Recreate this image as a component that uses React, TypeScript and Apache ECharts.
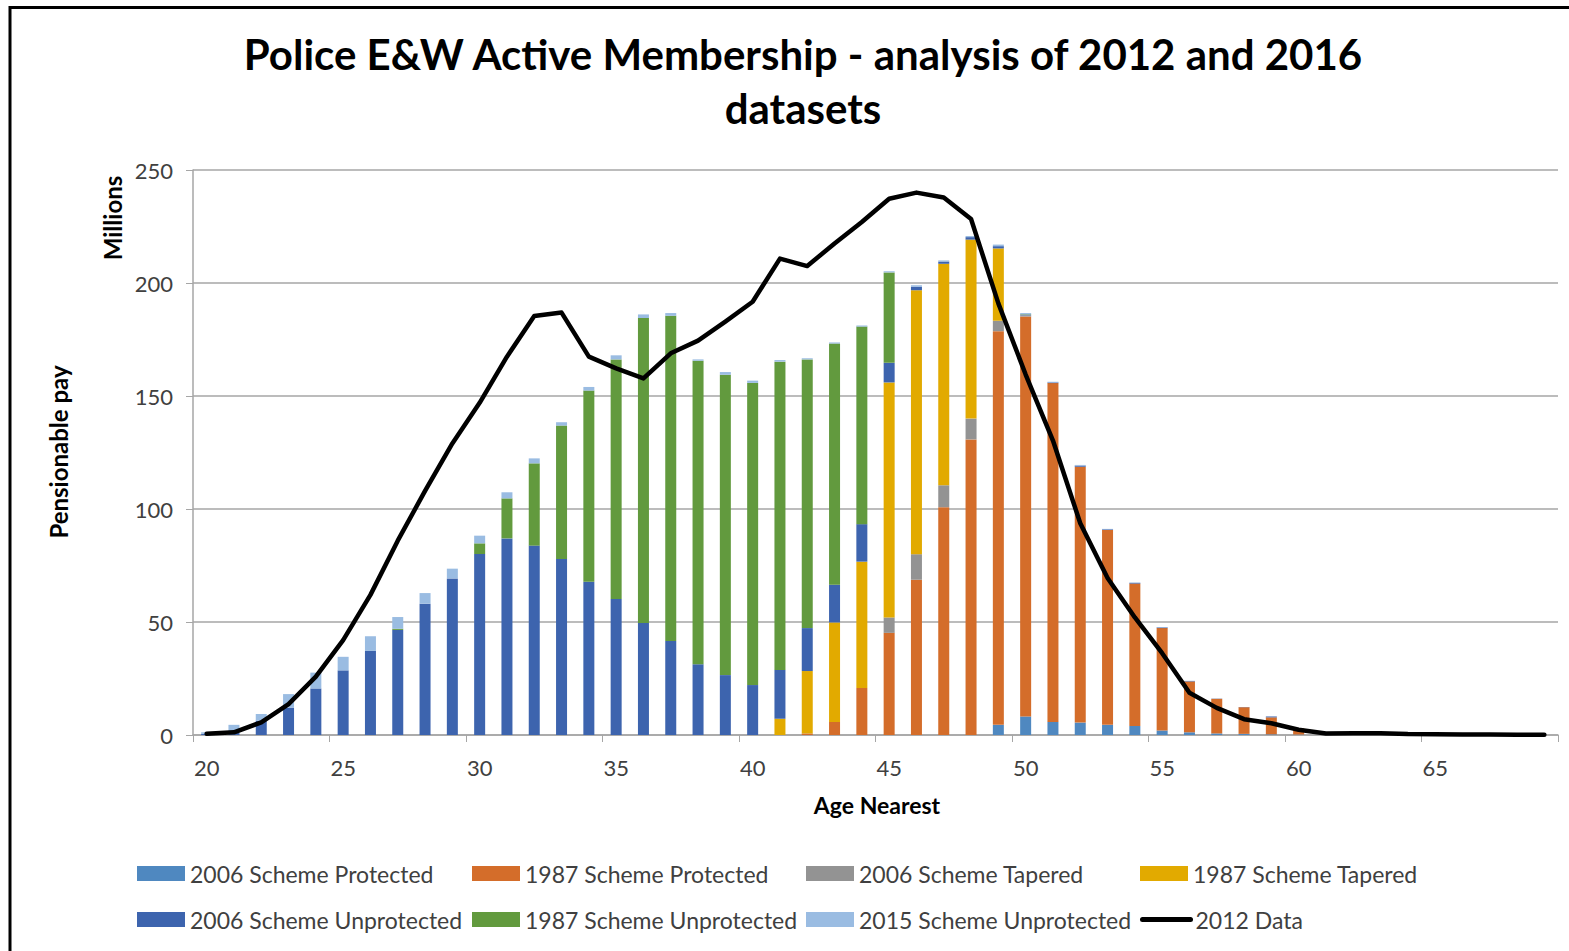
import React, { useEffect, useRef } from "react";
import * as echarts from "echarts";

const ages: string[] = [];
for (let a = 20; a <= 69; a++) ages.push(String(a));

// ages 20..69
const prot2006 = [
  0, 0, 0, 0, 0, 0, 0, 0, 0, 0,
  0, 0, 0, 0, 0, 0, 0, 0, 0, 0,
  0, 0, 0, 0, 0, 0, 0, 0, 0, 4.5,
  8.2, 5.8, 5.5, 4.5, 4, 2, 1.2, 0.7, 0.5, 0.3,
  0.2, 0, 0, 0, 0, 0, 0, 0, 0, 0,
];
const prot1987 = [
  0, 0, 0, 0, 0, 0, 0, 0, 0, 0,
  0, 0, 0, 0, 0, 0, 0, 0, 0, 0,
  0, 0, 0.7, 5.8, 20.8, 45.2, 68.7, 100.8, 130.8, 174.2,
  177, 149.9, 113.2, 86.2, 63, 45.3, 22.5, 15.3, 11.8, 7.5,
  2.8, 0.4, 0.3, 0.2, 0.1, 0.1, 0, 0, 0, 0,
];
const tap2006 = [
  0, 0, 0, 0, 0, 0, 0, 0, 0, 0,
  0, 0, 0, 0, 0, 0, 0, 0, 0, 0,
  0, 0, 0, 0, 0, 6.8, 11.3, 9.7, 9.2, 4.6,
  0.5, 0, 0, 0, 0, 0, 0, 0, 0, 0,
  0, 0, 0, 0, 0, 0, 0, 0, 0, 0,
];
const tap1987 = [
  0, 0, 0, 0, 0, 0, 0, 0, 0, 0,
  0, 0, 0, 0, 0, 0, 0, 0, 0, 0,
  0, 7.2, 27.6, 44, 55.9, 104, 116.8, 98, 79.2, 32,
  0, 0, 0, 0, 0, 0, 0, 0, 0, 0,
  0, 0, 0, 0, 0, 0, 0, 0, 0, 0,
];
const unprot2006 = [
  0.5, 1, 6.3, 12.1, 20.6, 28.6, 37.2, 46.5, 58.1, 69.3,
  80.1, 87, 83.8, 77.9, 67.8, 60.2, 49.6, 41.6, 31.3, 26.5,
  22.1, 21.6, 19, 16.7, 16.6, 8.7, 1.5, 1, 1.1, 1,
  0.3, 0.3, 0.5, 0.3, 0.3, 0.3, 0.2, 0.1, 0.1, 0.4,
  0, 0, 0, 0, 0, 0, 0, 0, 0, 0,
];
const unprot1987 = [
  0, 0, 0, 0, 0, 0, 0, 0.5, 0, 0,
  4.7, 17.7, 36.4, 59, 84.6, 106, 134.9, 143.9, 134.3, 132.9,
  133.7, 136.4, 118.9, 106.7, 87.4, 40, 0, 0, 0, 0,
  0.2, 0, 0, 0, 0, 0, 0, 0, 0, 0,
  0, 0, 0, 0, 0, 0, 0, 0, 0, 0,
];
const unprot2015 = [
  0.7, 3.5, 3, 6, 7, 6, 6.5, 5.2, 4.7, 4.3,
  3.4, 2.7, 2.2, 1.5, 1.6, 1.8, 1.6, 1.2, 0.6, 1.2,
  1, 0.7, 0.5, 0.5, 0.5, 0.5, 0.7, 0.5, 0.5, 0.7,
  0.5, 0.3, 0.3, 0.2, 0.2, 0.2, 0.1, 0, 0, 0,
  0, 0, 0, 0, 0, 0, 0, 0, 0, 0,
];
const data2012 = [
  0.5, 1.2, 5.6, 13.7, 25.8, 42, 62, 86, 108, 129,
  147, 167.4, 185.4, 186.9, 167.4, 162.2, 157.8, 168.9, 174.5, 182.9,
  191.7, 210.8, 207.5, 217.5, 227, 237.3, 240, 237.8, 228.3, 191,
  159.5, 130.3, 93.7, 69.5, 52, 36.2, 18.7, 12, 7, 5.2,
  2.3, 0.7, 0.8, 0.8, 0.4, 0.3, 0.2, 0.2, 0.1, 0.1,
];

const barSeries = [
  { name: "2006 Scheme Protected", data: prot2006, color: "#4F88C0" },
  { name: "1987 Scheme Protected", data: prot1987, color: "#D46D2A" },
  { name: "2006 Scheme Tapered", data: tap2006, color: "#939393" },
  { name: "1987 Scheme Tapered", data: tap1987, color: "#E2AA00" },
  { name: "2006 Scheme Unprotected", data: unprot2006, color: "#3D64AE" },
  { name: "1987 Scheme Unprotected", data: unprot1987, color: "#629A3E" },
  { name: "2015 Scheme Unprotected", data: unprot2015, color: "#9ABCE2" },
];

const legendPos: [string, number, number][] = [
  ["2006 Scheme Protected", 132, 857],
  ["1987 Scheme Protected", 467, 857],
  ["2006 Scheme Tapered", 801, 857],
  ["1987 Scheme Tapered", 1135, 857],
  ["2006 Scheme Unprotected", 132, 903],
  ["1987 Scheme Unprotected", 467, 903],
  ["2015 Scheme Unprotected", 801, 903],
  ["2012 Data", 1135, 903],
];

const FONT = "Lato, 'Open Sans', sans-serif";

export default function App() {
  const ref = useRef<HTMLDivElement>(null);
  useEffect(() => {
    if (!ref.current) return;
    const chart = echarts.init(ref.current, undefined, { renderer: "svg" });
    const option: any = {
      animation: false,
      backgroundColor: "#fff",
      textStyle: { fontFamily: FONT },
      title: {
        text: "Police E&W Active Membership - analysis of 2012 and 2016\ndatasets",
        left: 798,
        top: 22,
        textAlign: "center",
        textStyle: {
          fontFamily: FONT,
          fontSize: 42,
          fontWeight: "bold",
          color: "#000",
          lineHeight: 54,
        },
      },
      grid: { left: 193, right: 11, top: 170, bottom: 216, containLabel: false },
      legend: legendPos.map(([name, left, top]) => ({
        left,
        top,
        data:
          name === "2012 Data"
            ? [{ name, itemStyle: { opacity: 0, color: "rgba(0,0,0,0)", borderColor: "rgba(0,0,0,0)" } }]
            : [{ name, icon: "rect" }],
        itemWidth: 48,
        itemHeight: 15,
        itemGap: 0,
        selectedMode: false,
        lineStyle: { width: 5 },
        textStyle: { fontFamily: FONT, fontSize: 23, color: "#404040" },
      })),
      xAxis: {
        type: "category",
        data: ages,
        boundaryGap: true,
        axisLine: { show: true, lineStyle: { color: "#A6A6A6", width: 1.5 } },
        axisTick: { show: true, interval: 4, length: 7, lineStyle: { color: "#A6A6A6" } },
        axisLabel: {
          interval: 4,
          fontSize: 22,
          color: "#404040",
          fontFamily: FONT,
          margin: 21,
        },
        splitLine: { show: false },
      },
      yAxis: {
        type: "value",
        min: 0,
        max: 250,
        interval: 50,
        axisLine: { show: true, lineStyle: { color: "#A6A6A6", width: 1.5 } },
        axisTick: { show: true, length: 7, lineStyle: { color: "#A6A6A6" } },
        axisLabel: { fontSize: 22, color: "#404040", fontFamily: FONT, margin: 20 },
        splitLine: { show: true, lineStyle: { color: "#A6A6A6", width: 1.5 } },
      },
      series: [
        ...barSeries.map((s) => ({
          name: s.name,
          type: "bar",
          stack: "total",
          data: s.data,
          barWidth: 11,
          itemStyle: { color: s.color },
        })),
        {
          name: "2012 Data",
          type: "line",
          data: data2012,
          symbol: "none",
          z: 10,
          lineStyle: { color: "#000", width: 4.5, join: "round", cap: "round" },
          itemStyle: { color: "#000" },
        },
      ],
      graphic: [
        {
          type: "rect",
          shape: { x: 10, y: 7.5, width: 1700, height: 1100 },
          style: { fill: "none", stroke: "#000", lineWidth: 3 },
          silent: true,
        },
        {
          type: "text",
          x: 58,
          y: 452,
          rotation: Math.PI / 2,
          style: {
            text: "Pensionable pay",
            fontFamily: FONT,
            fontSize: 24,
            fontWeight: "bold",
            fill: "#000",
            textAlign: "center",
            textVerticalAlign: "middle",
          },
        },
        {
          type: "text",
          x: 112,
          y: 218,
          rotation: Math.PI / 2,
          style: {
            text: "Millions",
            fontFamily: FONT,
            fontSize: 24,
            fontWeight: "bold",
            fill: "#000",
            textAlign: "center",
            textVerticalAlign: "middle",
          },
        },
        {
          type: "text",
          x: 877,
          y: 805,
          style: {
            text: "Age Nearest",
            fontFamily: FONT,
            fontSize: 23,
            fontWeight: "bold",
            fill: "#000",
            textAlign: "center",
            textVerticalAlign: "middle",
          },
        },
      ],
    };
    chart.setOption(option);
    return () => chart.dispose();
  }, []);
  return (
    <div
      ref={ref}
      style={{ position: "fixed", left: 0, top: 0, width: 1569, height: 951 }}
    />
  );
}
